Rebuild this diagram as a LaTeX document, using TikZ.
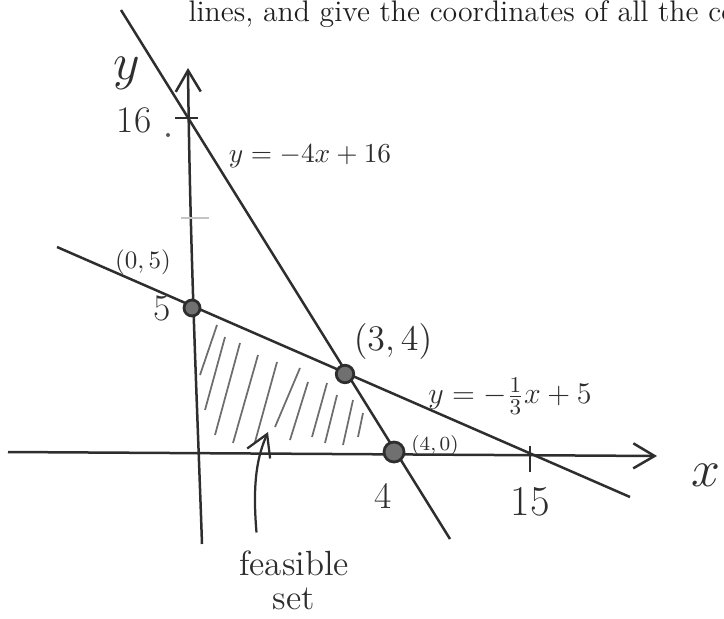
\documentclass[tikz,border=0pt]{standalone}
\usepackage{tikz}
\usetikzlibrary{arrows.meta,positioning,calc}
\usepackage{xcolor}
\definecolor{ink}{HTML}{2E2E2E}
\definecolor{inkfill}{HTML}{707070}
\definecolor{faint}{HTML}{C4C4C4}
\definecolor{print}{HTML}{1F1F1F}

\begin{document}
\begin{tikzpicture}[
  x=0.4pt,
  y=-0.4pt,
  >={Straight Barb[length=8.5pt,width=10pt]},
  graphline/.style={draw=ink, line width=1pt},
  axis/.style={->, draw=ink, line width=1pt},
  tickmark/.style={draw=ink, line width=1pt},
  dot/.style={circle, draw=ink, fill=inkfill, line width=1.1pt, minimum size=6.4pt, inner sep=0pt},
  hand/.style={text=ink, inner sep=0pt},
  hatch/.style={draw=ink!70, line width=0.7pt},
  pointer/.style={->, draw=ink, line width=0.9pt}
]
\clip (0,0) rectangle (724,618);

\node[anchor=base west, text=print, inner sep=0pt, font=\fontsize{11.9}{14}\selectfont] (prompt) at (188,22) {lines, and give the coordinates of all the co};

\coordinate (xleft) at (8,452);
\coordinate (xright) at (657,456);
\coordinate (ybottom) at (202,544);
\coordinate (ytop) at (188,68);
\coordinate (ftop) at (121,10);
\coordinate (fbottom) at (450,539);
\coordinate (gtop) at (57,247);
\coordinate (gbottom) at (630,497);

\foreach \xa/\ya/\xb/\yb in {200/375/217/325, 205/410/225/337, 215/435/240/343, 233/443/258/355, 255/442/277/362, 275/427/300/368, 290/440/308/382, 312/437/327/383, 325/443/337/395, 343/445/353/400, 358/437/363/413}
  \draw[hatch] (\xa,\ya) -- (\xb,\yb);

\draw[axis] (xleft) -- (xright);
\draw[axis] (ybottom) .. controls (197,400) and (190,250) .. (ytop);
\draw[graphline] (ftop) -- (fbottom);
\draw[graphline] (gtop) -- (gbottom);

\draw[tickmark] (175,118) -- (198,118);
\draw[tickmark] (530,446) -- (530,472);
\draw[draw=faint, line width=0.8pt] (181,218) -- (209,218);

\node[dot] (pA) at (192,308) {};
\node[dot, minimum width=5.6pt, minimum height=7pt, rotate=-25] (pB) at (345,374) {};
\node[dot, minimum width=7pt, minimum height=8pt] (pC) at (394,452) {};
\node[circle, fill=ink!80, inner sep=0pt, minimum size=1.6pt] (mark) at (168,135) {};

\node[hand, font=\fontsize{22}{24}\selectfont] (ylab) at (127,73) {$y$};
\node[hand, font=\fontsize{22}{24}\selectfont] (xlab) at (706,475) {$x$};
\node[hand, font=\fontsize{15}{17}\selectfont] (sixteen) at (134,120) {16};
\node[hand, font=\fontsize{15}{17}\selectfont] (five) at (162,308) {5};
\node[hand, font=\fontsize{15}{17}\selectfont] (four) at (383,496) {4};
\node[hand, font=\fontsize{17}{19}\selectfont] (fifteen) at (530,502) {15};

\node[hand, font=\fontsize{10.5}{12}\selectfont] (eqsteep) at (310,156) {$y=-4x+16$};
\node[hand, font=\fontsize{13}{15}\selectfont] (eqflat) at (510,396) {$y=-\frac{1}{3}x+5$};

\node[hand, font=\fontsize{10}{12}\selectfont] (labA) at (143,262) {$(0,5)$};
\node[hand, font=\fontsize{14}{16}\selectfont] (labB) at (393,341) {$(3,4)$};
\node[hand, font=\fontsize{8}{10}\selectfont] (labC) at (435,445) {$(4,0)$};

\node[hand, align=center, font=\fontsize{14}{13.6}\selectfont] (feas) at (294,580) {feasible\\set};
\draw[pointer] ([xshift=-15pt,yshift=7pt]feas.north) .. controls (252,480) and (258,455) .. (268,432);
\end{tikzpicture}
\end{document}
